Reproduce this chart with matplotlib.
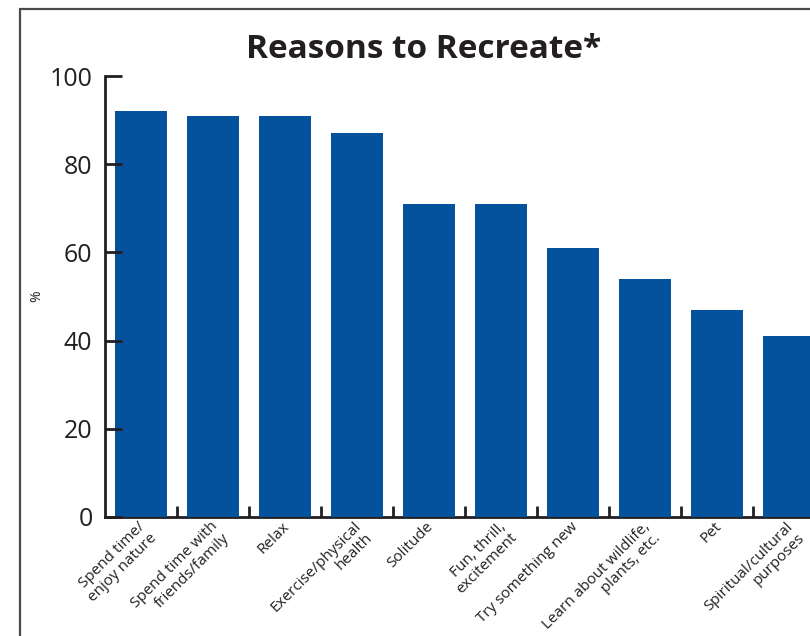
import matplotlib
matplotlib.use("Agg")
import matplotlib.pyplot as plt
from matplotlib.patches import Rectangle
from matplotlib.transforms import ScaledTranslation
import numpy as np

plt.rcParams['font.family'] = ['Open Sans', 'DejaVu Sans']

title = "Reasons to Recreate*"
categories = [
    "Spend time/\nenjoy nature",
    "Spend time with\nfriends/family",
    "Relax",
    "Exercise/physical\nhealth",
    "Solitude",
    "Fun, thrill,\nexcitement",
    "Try something new",
    "Learn about wildlife,\nplants, etc.",
    "Pet",
    "Spiritual/cultural\npurposes",
]
values = [92, 91, 91, 87, 71, 71, 61, 54, 47, 41]
yticks = [0, 20, 40, 60, 80, 100]
ylabel = "%"

text_color = "#231f20"
bar_color = "#03529B"

W, H = 810, 636
fig = plt.figure(figsize=(W / 100, H / 100), dpi=100)

# frame border (cropped at right and bottom)
fig.add_artist(Rectangle((20 / W, -0.1), 1.2, (H - 9) / H + 0.1,
                         transform=fig.transFigure, fill=False,
                         edgecolor="#4a4a4a", linewidth=1.6))

ax = fig.add_axes([105 / W, 119 / H, 720 / W, 441 / H])
x = np.arange(len(categories))
ax.bar(x, values, width=0.72, color=bar_color, zorder=1)

ax.set_xlim(-0.5, len(categories) - 0.5)
ax.set_ylim(0, 100)

for s in ["top", "right"]:
    ax.spines[s].set_visible(False)
for s in ["left", "bottom"]:
    ax.spines[s].set_color(text_color)
    ax.spines[s].set_linewidth(2.0)
    ax.spines[s].set_zorder(0)

ax.set_yticks(yticks)
ax.set_yticklabels([str(v) for v in yticks])
ax.tick_params(axis="y", direction="in", length=12, width=2.0, color=text_color,
               labelsize=18, labelcolor=text_color, pad=9)

# category labels at bar centres, boundary ticks as minor ticks
ax.set_xticks(x)
ax.set_xticklabels(categories, rotation=45, ha="right", va="top",
                   rotation_mode="anchor", fontsize=11, color=text_color,
                   multialignment="right", linespacing=1.1)
ax.tick_params(axis="x", which="major", length=0, pad=1.5)
ax.set_xticks(x[:-1] + 0.5, minor=True)
ax.tick_params(axis="x", which="minor", direction="in", length=8, width=2.0,
               color=text_color)
off = ScaledTranslation(-3 / 100, 0, fig.dpi_scale_trans)
for lab in ax.get_xticklabels():
    lab.set_transform(lab.get_transform() + off)

ax.set_ylabel(ylabel, fontsize=10, color=text_color)
ax.yaxis.set_label_coords(-61 / 720, 0.5)

fig.text(424 / W, (H - 58) / H, title, ha="center", va="baseline",
         fontsize=24, fontweight="bold", color=text_color)

fig.savefig("out.png", dpi=100)
